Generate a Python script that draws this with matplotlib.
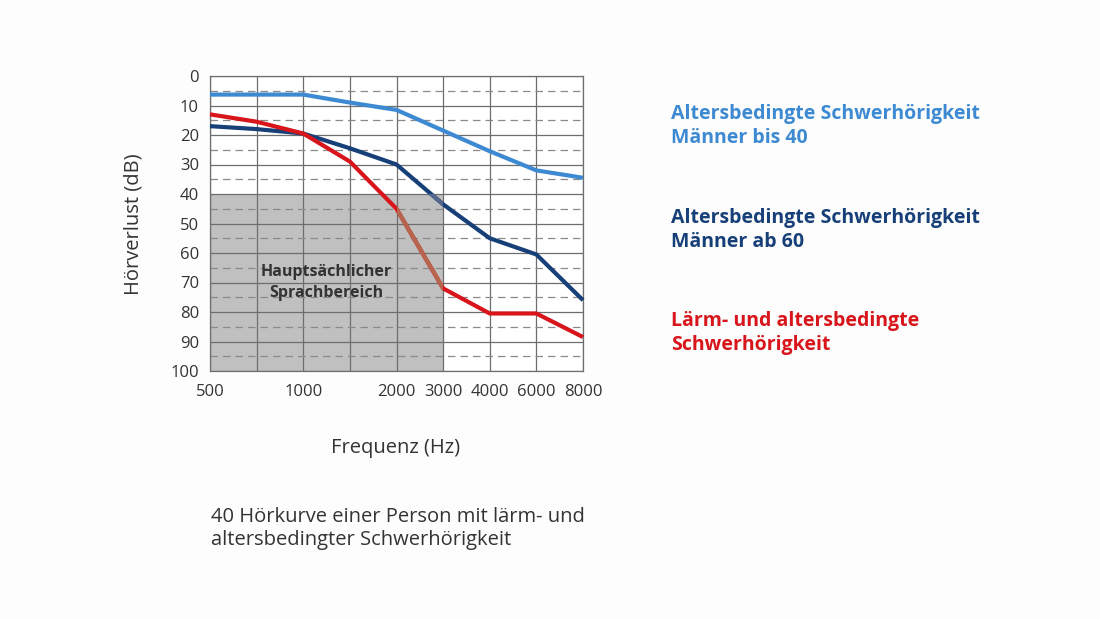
import matplotlib
matplotlib.use("Agg")
import matplotlib.pyplot as plt
from matplotlib.patches import Rectangle

# ---- data ----
freq_labels = ["500", "", "1000", "", "2000", "3000", "4000", "6000", "8000"]
positions = list(range(len(freq_labels)))
men_to_40 = [6.3, 6.3, 6.3, 9, 11.5, 18.5, 25.5, 32, 34.5]
men_from_60 = [17, 18, 19.5, 24.5, 30, 43.5, 55, 60.5, 76]
noise_age = [13, 15.5, 19.5, 29, 45, 72, 80.5, 80.5, 88.5]
y_ticks = list(range(0, 101, 10))

c_light = "#3d8ad3"
c_dark = "#173f78"
c_red = "#d7151b"
c_light_mix = "#7a9cbc"
c_dark_mix = "#56668c"
c_red_mix = "#b6664e"

font = ["Open Sans", "DejaVu Sans"]
plt.rcParams["font.family"] = font

fig = plt.figure(figsize=(11, 6.19), dpi=100)
fig.patch.set_facecolor("#fcfdfc")
ax = fig.add_axes([210/1100, 1-371/619, 373/1100, 295/619])
ax.set_facecolor("white")

ax.set_xlim(0, 8)
ax.set_ylim(100, 0)

# speech area
ax.add_patch(Rectangle((0, 40), 5, 60, facecolor="#c0c0c0", edgecolor="none", zorder=0))

# grid
for x in positions:
    ax.axvline(x, color="#6e6e6e", lw=0.9, zorder=1)
for y in y_ticks:
    ax.axhline(y, color="#6e6e6e", lw=0.9, zorder=1)
for y in range(5, 100, 10):
    ax.axhline(y, color="#8a8a8a", lw=0.9, ls=(0, (6, 4)), zorder=1)

series = [(men_to_40, c_light, c_light_mix), (men_from_60, c_dark, c_dark_mix), (noise_age, c_red, c_red_mix)]
clip = Rectangle((4, 40), 1, 60, transform=ax.transData, facecolor="none", edgecolor="none")
ax.add_patch(clip)
for vals, c, cm in series:
    ax.plot(positions, vals, color=c, lw=3, zorder=3, solid_joinstyle="round", solid_capstyle="butt", clip_on=False)
    l, = ax.plot(positions, vals, color=cm, lw=3, zorder=3.5, solid_joinstyle="round")
    l.set_clip_path(clip)

ax.text(2.5, 70, "Hauptsächlicher\nSprachbereich", ha="center", va="center",
        fontsize=11.5, fontweight="bold", color="#333333", linespacing=1.35, zorder=4)

ax.set_xticks(positions)
ax.set_xticklabels(freq_labels)
ax.set_yticks(y_ticks)
ax.tick_params(length=0, labelsize=12, colors="#333333")
ax.tick_params(axis="x", pad=9)
ax.tick_params(axis="y", pad=8)
for s in ax.spines.values():
    s.set_color("#6e6e6e")
    s.set_linewidth(0.9)

fig.text(133/1100, 1-224/619, "Hörverlust (dB)", rotation=90, ha="center", va="center",
         fontsize=14.5, color="#333333")
fig.text(396/1100, 1-448/619, "Frequenz (Hz)", ha="center", va="center", fontsize=14.5, color="#333333")
fig.text(211/1100, 1-528/619, "40 Hörkurve einer Person mit lärm- und\naltersbedingter Schwerhörigkeit",
         ha="left", va="center", fontsize=14.5, color="#333333", linespacing=1.2)

legend_items = [("Altersbedingte Schwerhörigkeit\nMänner bis 40", c_light, 126),
                ("Altersbedingte Schwerhörigkeit\nMänner ab 60", c_dark, 230),
                ("Lärm- und altersbedingte\nSchwerhörigkeit", c_red, 333)]
for txt, c, yc in legend_items:
    fig.text(671/1100, 1-yc/619, txt, ha="left", va="center", fontsize=14, fontweight="bold",
             color=c, linespacing=1.3)

fig.savefig("out.png", dpi=100, facecolor=fig.get_facecolor())
